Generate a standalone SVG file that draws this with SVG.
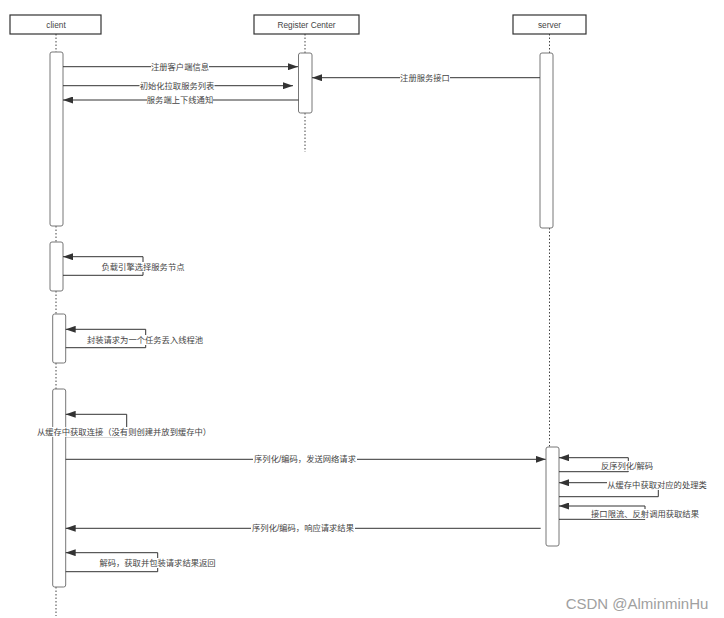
<svg xmlns="http://www.w3.org/2000/svg" width="724" height="618" viewBox="0 0 724 618">
<style>
.hd{fill:#fff;stroke:#333;stroke-width:1.2}
.act{fill:#fff;stroke:#777;stroke-width:1}
.life{stroke:#444;stroke-width:1;stroke-dasharray:1.5 2}
.msg{stroke:#333;stroke-width:1;fill:none;marker-end:url(#ah)}
text{font-family:"Liberation Sans","Noto Sans CJK SC",sans-serif;font-size:8.3px;fill:#444;text-anchor:middle;dominant-baseline:central}
.bg{fill:#fff}
</style>
<defs>
<marker id="ah" markerUnits="userSpaceOnUse" markerWidth="10" markerHeight="7" refX="10" refY="3.5" orient="auto">
<path d="M0,0 L10,3.5 L0,7 z" fill="#333"/>
</marker>
</defs>
<rect width="724" height="618" fill="#fff"/>

<g id="lifelines">
<path class="life" d="M56,34 V52 M56,226 V242 M56,291 V314 M56,363 V389 M56,587 V616"/>
<path class="life" d="M305,34 V53 M305,113 V152"/>
<path class="life" d="M549.5,34 V53 M549.5,228 V447"/>
</g>

<g id="client">
<rect class="hd" x="10" y="15" width="91" height="19"/>
<text x="56" y="25">client</text>
</g>
<g id="register-center">
<rect class="hd" x="254" y="15" width="105" height="19"/>
<text x="306.5" y="25">Register Center</text>
</g>
<g id="server">
<rect class="hd" x="513" y="15" width="73" height="19"/>
<text x="549.5" y="25">server</text>
</g>

<g id="activations">
<rect class="act" x="50" y="52" width="13" height="174" rx="2"/>
<rect class="act" x="50" y="242" width="13" height="49" rx="2"/>
<rect class="act" x="52.7" y="314" width="13" height="49" rx="2"/>
<rect class="act" x="52.7" y="389" width="13" height="198" rx="2"/>
<rect class="act" x="298.5" y="53" width="13.5" height="60" rx="2"/>
<rect class="act" x="540" y="53" width="13" height="175" rx="2"/>
<rect class="act" x="546" y="447" width="13" height="99" rx="2"/>
</g>

<g id="connectors">
<path class="msg" d="M63,66.7 H298"/>
<path class="msg" d="M63,85.7 H293"/>
<path class="msg" d="M298.5,100 H63"/>
<path class="msg" d="M540,77.7 H312"/>
<path class="msg" d="M63,275.3 H143 V256.7 H63"/>
<path class="msg" d="M65.7,347.7 H145.7 V329.3 H65.7"/>
<path class="msg" d="M65.7,436.7 H126.7 V414.3 H65.7"/>
<path class="msg" d="M65.7,459.3 H545.7"/>
<path class="msg" d="M540.7,528.3 H65.7"/>
<path class="msg" d="M65.7,571.7 H157.7 V552.7 H65.7"/>
<path class="msg" d="M559,471.7 H628.3 V457.7 H559"/>
<path class="msg" d="M559,496.7 H658.3 V482.7 H559"/>
<path class="msg" d="M559,519.3 H645 V506 H559"/>
</g>

<g id="labels">
<rect class="bg" x="151" y="62" width="58" height="10"/><text x="180" y="66.7">注册客户端信息</text>
<rect class="bg" x="139.5" y="81" width="75" height="10"/><text x="177" y="85.7">初始化拉取服务列表</text>
<rect class="bg" x="147" y="95" width="66" height="10"/><text x="180" y="100">服务端上下线通知</text>
<rect class="bg" x="400" y="73" width="50" height="10"/><text x="425" y="77.7">注册服务接口</text>
<rect class="bg" x="101.5" y="262" width="83" height="10"/><text x="143" y="266.7">负载引擎选择服务节点</text>
<rect class="bg" x="87" y="335" width="116" height="10"/><text x="145" y="339.7">封装请求为一个任务丢入线程池</text>
<rect class="bg" x="38" y="427" width="172" height="10"/><text x="124" y="432">从缓存中获取连接（没有则创建并放到缓存中）</text>
<rect class="bg" x="253" y="454.5" width="104" height="10"/><text x="305" y="459.3">序列化/编码，发送网络请求</text>
<rect class="bg" x="251" y="523.5" width="104" height="10"/><text x="303" y="528.3">序列化/编码，响应请求结果</text>
<rect class="bg" x="99.5" y="558" width="116" height="10"/><text x="157.5" y="563">解码，获取并包装请求结果返回</text>
<rect class="bg" x="601.5" y="461" width="51" height="10"/><text x="627" y="466">反序列化/解码</text>
<rect class="bg" x="607" y="480" width="100" height="10"/><text x="657" y="485">从缓存中获取对应的处理类</text>
<rect class="bg" x="591" y="509" width="108" height="10"/><text x="645" y="514">接口限流、反射调用获取结果</text>
</g>

<text x="637" y="603" style="font-size:15px;fill:#a0a0a0">CSDN @AlminminHu</text>
</svg>
